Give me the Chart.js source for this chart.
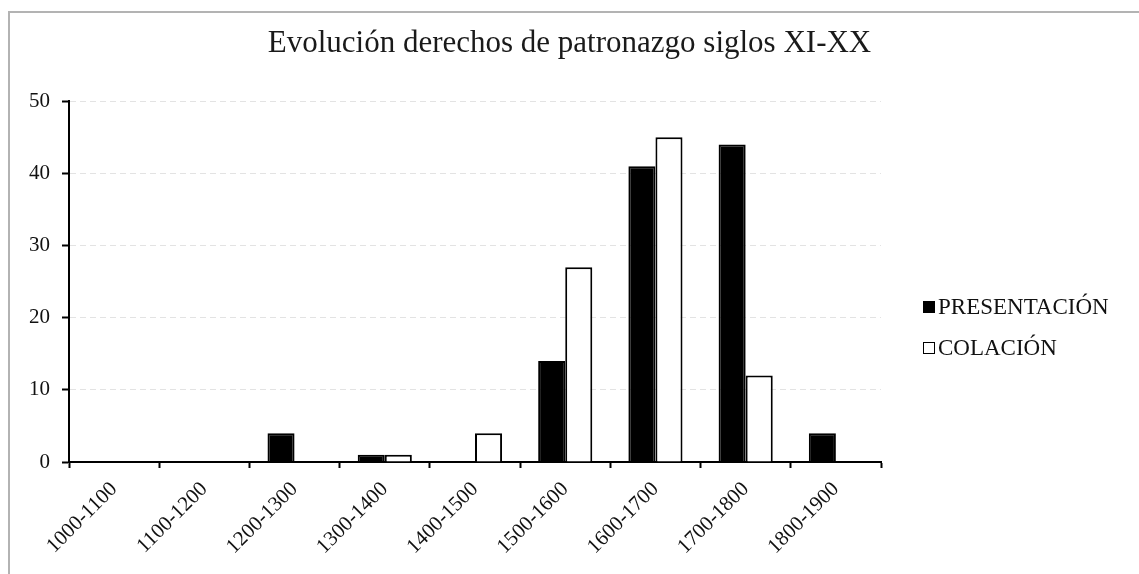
<!DOCTYPE html>
<html>
<head>
<meta charset="utf-8">
<script src="https://cdn.jsdelivr.net/npm/chart.js@4"></script>
<style>
  html, body { margin: 0; padding: 0; background: #fff; overflow: hidden; }
  #frame { position: absolute; left: 8px; top: 11px; width: 1200px; height: 700px;
           border: 2px solid #b3b3b3; box-sizing: border-box; }
  #wrap  { position: absolute; left: 0; top: 0; width: 1139px; height: 574px; }
  #legend { position: absolute; left: 923px; top: 286px;
            font-family: "Liberation Serif", serif; font-size: 23px; color: #111; }
  .lg-item { display: flex; align-items: center; height: 41px; }
  .lg-box  { width: 12px; height: 12px; border: 1.5px solid #000; box-sizing: border-box; margin-right: 3px; }
</style>
</head>
<body>
<div id="frame"></div>
<div id="wrap"><canvas id="c" width="1139" height="574"></canvas></div>
<div id="legend"></div>
<script>
// ============================================================
//  Evolución derechos de patronazgo — siglos XI-XX
// ============================================================
const PERIODS      = ['1000-1100','1100-1200','1200-1300','1300-1400','1400-1500','1500-1600','1600-1700','1700-1800','1800-1900'];
const PRESENTACION = [0, 0, 4, 1, 0, 14, 41, 44, 4];
const COLACION     = [0, 0, 0, 1, 4, 27, 45, 12, 0];
const Y_TICKS      = [0, 10, 20, 30, 40, 50];
const SERIES_NAMES = ['PRESENTACIÓN', 'COLACIÓN'];
const SERIES_FILL  = ['#000000', '#ffffff'];

const FONT = '"Liberation Serif", "Times New Roman", serif';

// legend (html, so the box sits right next to the text like the original)
document.getElementById('legend').innerHTML = SERIES_NAMES.map((n, i) =>
  `<div class="lg-item"><span class="lg-box" style="background:${SERIES_FILL[i]}"></span><span>${n}</span></div>`
).join('');

const ctx = document.getElementById('c').getContext('2d');
new Chart(ctx, {
  type: 'bar',
  data: {
    labels: PERIODS,
    datasets: [
      { label: SERIES_NAMES[0], data: PRESENTACION, backgroundColor: SERIES_FILL[0], borderColor: '#000', borderWidth: 2 },
      { label: SERIES_NAMES[1], data: COLACION,     backgroundColor: SERIES_FILL[1], borderColor: '#000', borderWidth: 2 }
    ]
  },
  options: {
    responsive: false,
    animation: false,
    layout: { padding: 0 },
    datasets: { bar: { categoryPercentage: 0.6, barPercentage: 1.0 } },
    plugins: {
      legend: { display: false },
      tooltip: { enabled: false },
      title: {
        display: true,
        text: 'Evolución derechos de patronazgo siglos XI-XX',
        color: '#1a1a1a',
        font: { family: FONT, size: 31, weight: 'normal', lineHeight: 1.2 },
        padding: { top: 25, bottom: 39 }
      }
    },
    scales: {
      x: {
        grid:   { drawOnChartArea: false, drawTicks: true, tickLength: 6, tickColor: '#000', tickWidth: 2 },
        border: { color: '#000', width: 2 },
        ticks:  { color: '#111', font: { family: FONT, size: 21 }, minRotation: 45, maxRotation: 45, padding: 9 },
        afterFit: s => { s.height = 112; }
      },
      y: {
        min: 0, max: 50,
        afterBuildTicks: s => { s.ticks = Y_TICKS.map(v => ({ value: v })); },
        grid:   { color: '#e3e3e3', lineWidth: 1, tickColor: '#000', tickLength: 7, tickWidth: 2 },
        border: { color: '#000', width: 2, dash: [6, 4] },
        ticks:  { color: '#111', font: { family: FONT, size: 21 }, padding: 12 },
        afterFit: s => { s.width = 69; }
      },
      // empty axis on the right: keeps room for the legend, title stays centred on the canvas
      yRight: {
        position: 'right',
        grid:   { display: false },
        border: { display: false },
        ticks:  { display: false },
        afterFit: s => { s.width = 258; }
      }
    }
  }
});
</script>
</body>
</html>
